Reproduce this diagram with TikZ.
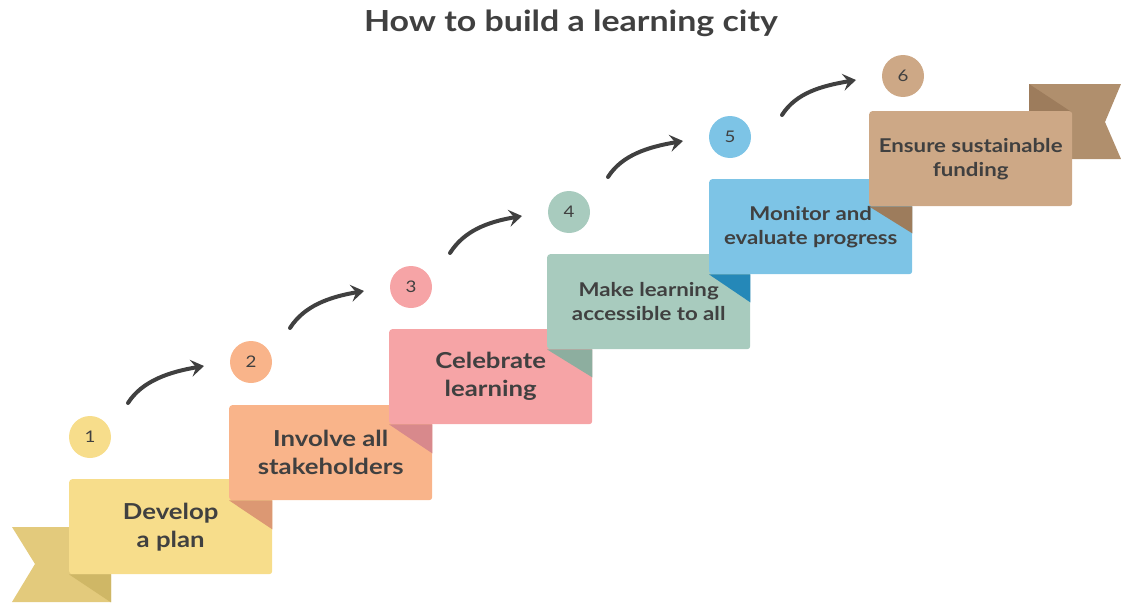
\documentclass[tikz,border=0pt]{standalone}
\usepackage{fontspec}
\setmainfont{Lato}[FakeStretch=1.17]
\usetikzlibrary{calc,arrows.meta}
\definecolor{ink}{HTML}{404040}
\definecolor{yellowbox}{HTML}{F7DD8B}
\definecolor{yellowtail}{HTML}{E3CA7C}
\definecolor{yellowfold}{HTML}{CFB766}
\definecolor{orangebox}{HTML}{F9B48A}
\definecolor{orangefold}{HTML}{DC9873}
\definecolor{pinkbox}{HTML}{F6A4A6}
\definecolor{pinkfold}{HTML}{D8898C}
\definecolor{sagebox}{HTML}{A8CBBE}
\definecolor{sagefold}{HTML}{8DAE9F}
\definecolor{bluebox}{HTML}{7DC4E6}
\definecolor{bluefold}{HTML}{2588B8}
\definecolor{tanbox}{HTML}{CDA886}
\definecolor{tantail}{HTML}{B08F6D}
\definecolor{tanfold}{HTML}{9D7C5C}

\begin{document}
\begin{tikzpicture}[x=1pt,y=-1pt]
  \tikzset{stepbox/.style={rounded corners=3pt, minimum width=203pt, minimum height=95pt,
             inner sep=0pt, anchor=north west, align=center, text=ink},
           bigtext/.style={font=\bfseries\fontsize{22}{28}\selectfont},
           smalltext/.style={font=\bfseries\fontsize{19}{24}\selectfont},
           numdot/.style={circle, minimum size=42pt, inner sep=0pt, text=ink,
             font=\fontsize{16}{16}\selectfont},
           hop/.style={draw=ink, line width=4pt, line cap=round,
             -{Stealth[length=13pt, width=17pt, inset=5pt]}}}
  \useasboundingbox (0,0) rectangle (1121,602);

  \node[anchor=base, text=ink, font=\bfseries\fontsize{29}{29}\selectfont] (title) at (571,32)
    {How to build a learning city};

  % ribbon ends
  \fill[yellowtail] (12,527) -- (111,527) -- (111,602) -- (12,602) -- (35,564) -- cycle;
  \fill[tantail] (1029,84) -- (1121,84) -- (1105,122) -- (1121,159) -- (1029,159) -- cycle;
  \fill[tanfold] (1029,84) -- (1070,111) -- (1029,111) -- cycle;

  % the steps
  \node[stepbox, bigtext, fill=yellowbox] (b1) at (69,479) {Develop\\a plan};
  \fill[yellowfold] (b1.south west) -- ++(42,0) -- ++(0,28) -- cycle;
  \node[stepbox, bigtext, fill=orangebox] (b2) at (229,405) {Involve all\\stakeholders};
  \fill[orangefold] (b2.south west) -- (b2.south west -| b1.east) -- ++(0,29) -- cycle;
  \node[stepbox, bigtext, fill=pinkbox] (b3) at (389,329) {Celebrate\\learning};
  \fill[pinkfold] (b3.south west) -- (b3.south west -| b2.east) -- ++(0,29) -- cycle;
  \node[stepbox, smalltext, fill=sagebox] (b4) at (547,254) {Make learning\\accessible to all};
  \fill[sagefold] (b4.south west) -- (b4.south west -| b3.east) -- ++(0,28) -- cycle;
  \node[stepbox, smalltext, fill=bluebox] (b5) at (709,179) {Monitor and\\evaluate progress};
  \fill[bluefold] (b5.south west) -- (b5.south west -| b4.east) -- ++(0,28) -- cycle;
  \node[stepbox, smalltext, fill=tanbox] (b6) at (869,111) {Ensure sustainable\\funding};
  \fill[tanfold] (b6.south west) -- (b6.south west -| b5.east) -- ++(0,27) -- cycle;

  % numbers
  \node[numdot, fill=yellowbox] (c1) at (90,437) {1};
  \node[numdot, fill=orangebox] (c2) at (251,362) {2};
  \node[numdot, fill=pinkbox] (c3) at (411,287) {3};
  \node[numdot, fill=sagebox] (c4) at (569,212) {4};
  \node[numdot, fill=bluebox] (c5) at (730,137) {5};
  \node[numdot, fill=tanbox] (c6) at (903,76) {6};

  \foreach \a/\b/\sx/\sy in {1/2/38/-34, 2/3/39/-34, 3/4/39/-34, 4/5/39/-35, 5/6/52/-22}
    \draw[hop] ($(c\a)+(\sx,\sy)$) .. controls +(14,-22) and +(-35,6) .. ($(c\b)+(-47,4)$);
\end{tikzpicture}
\end{document}
